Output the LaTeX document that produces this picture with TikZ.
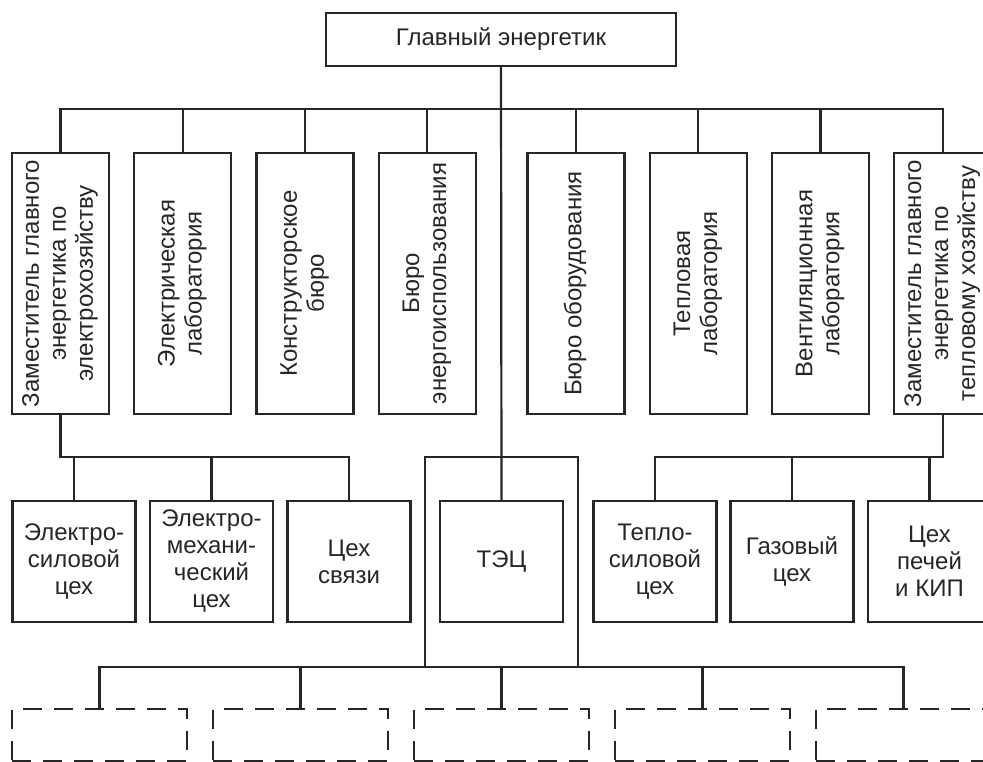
\documentclass[tikz,border=0pt]{standalone}
\usepackage{fontspec}
\setmainfont{Liberation Sans}
\usepackage{graphicx}
\newcommand{\vtext}[1]{\rotatebox{90}{\begin{tabular}{@{}c@{}}#1\end{tabular}}}
\tikzset{
	box/.style={draw, line width=2.2pt, inner sep=0pt, align=center, font=\fontsize{24}{27}\selectfont},
	vbox/.style={box, minimum width=97pt, minimum height=261pt},
	hbox/.style={box, minimum width=123pt, minimum height=121pt},
	dbox/.style={draw, line width=2.2pt, dash pattern=on 19pt off 12pt, minimum width=175pt, minimum height=52pt},
	link/.style={line width=2.2pt}
}
\begin{document}
\begin{tikzpicture}[x=1pt,y=-1pt,color=black!85]
		\path[use as bounding box, clip] (0,0) rectangle (983,762);
		%chief
		\node (gl) at (501,39.5) [box, minimum width=350pt, minimum height=53pt]{Главный энергетик};
		
		%first level
		\node (z1) at (60.5,283.5) [vbox]{\vtext{Заместитель главного\\энергетика по\\электрохозяйству}};
		\node (z2) at (182.7,283.5) [vbox]{\vtext{Электрическая\\лаборатория}};
		\node (z3) at (304.9,283.5) [vbox]{\vtext{Конструкторское\\бюро}};
		\node (z4) at (427.1,283.5) [vbox]{\vtext{Бюро\\энергоиспользования}};
		\node (z5) at (576,283.5) [vbox]{\vtext{Бюро оборудования}};
		\node (z6) at (698.2,283.5) [vbox]{\vtext{Тепловая\\лаборатория}};
		\node (z7) at (820.4,283.5) [vbox]{\vtext{Вентиляционная\\лаборатория}};
		\node (z8) at (942.6,283.5) [vbox]{\vtext{Заместитель главного\\энергетика по\\тепловому хозяйству}};
		
		%second level
		\node (c1) at (74,561.5) [hbox]{Электро-\\силовой\\цех};
		\node (c2) at (211.5,561.5) [hbox]{Электро-\\механи-\\ческий\\цех};
		\node (c3) at (349,561.5) [hbox]{Цех\\связи};
		\node (tec) at (501.5,561.5) [hbox]{ТЭЦ};
		\node (c5) at (655,561.5) [hbox]{Тепло-\\силовой\\цех};
		\node (c6) at (792,561.5) [hbox]{Газовый\\цех};
		\node (c7) at (929.5,561.5) [hbox]{Цех\\печей\\и КИП};
		
		%third level
		\foreach \i in {1,...,5}{
			\node (d\i) at ({99.5+201*(\i-1)},735) [dbox]{};
		}
		
		\coordinate (bus1) at (0,109);
		\coordinate (bus2) at (0,457);
		\coordinate (bus3) at (0,667);
		
		\draw[link] (gl.south) -- (tec.north);
		\draw[link] (z1.north) |- (z8.north |- bus1) -- (z8.north);
		\foreach \n in {z2,z3,z4,z5,z6,z7}{
			\draw[link] (\n.north) -- (\n.north |- bus1);
		}
		
		\draw[link] (z1.south) |- (c3.north |- bus2) -- (c3.north);
		\draw[link] (z8.south) |- (c5.north |- bus2) -- (c5.north);
		\foreach \n in {c1,c2,c6,c7}{
			\draw[link] (\n.north) -- (\n.north |- bus2);
		}
		
		%frame round the power plant
		\draw[link] (425,457) rectangle (578,667);
		\draw[link] (d1.north) |- (d5.north |- bus3) -- (d5.north);
		\foreach \i in {2,3,4}{
			\draw[link] (d\i.north) -- (d\i.north |- bus3);
		}
\end{tikzpicture}
\end{document}
